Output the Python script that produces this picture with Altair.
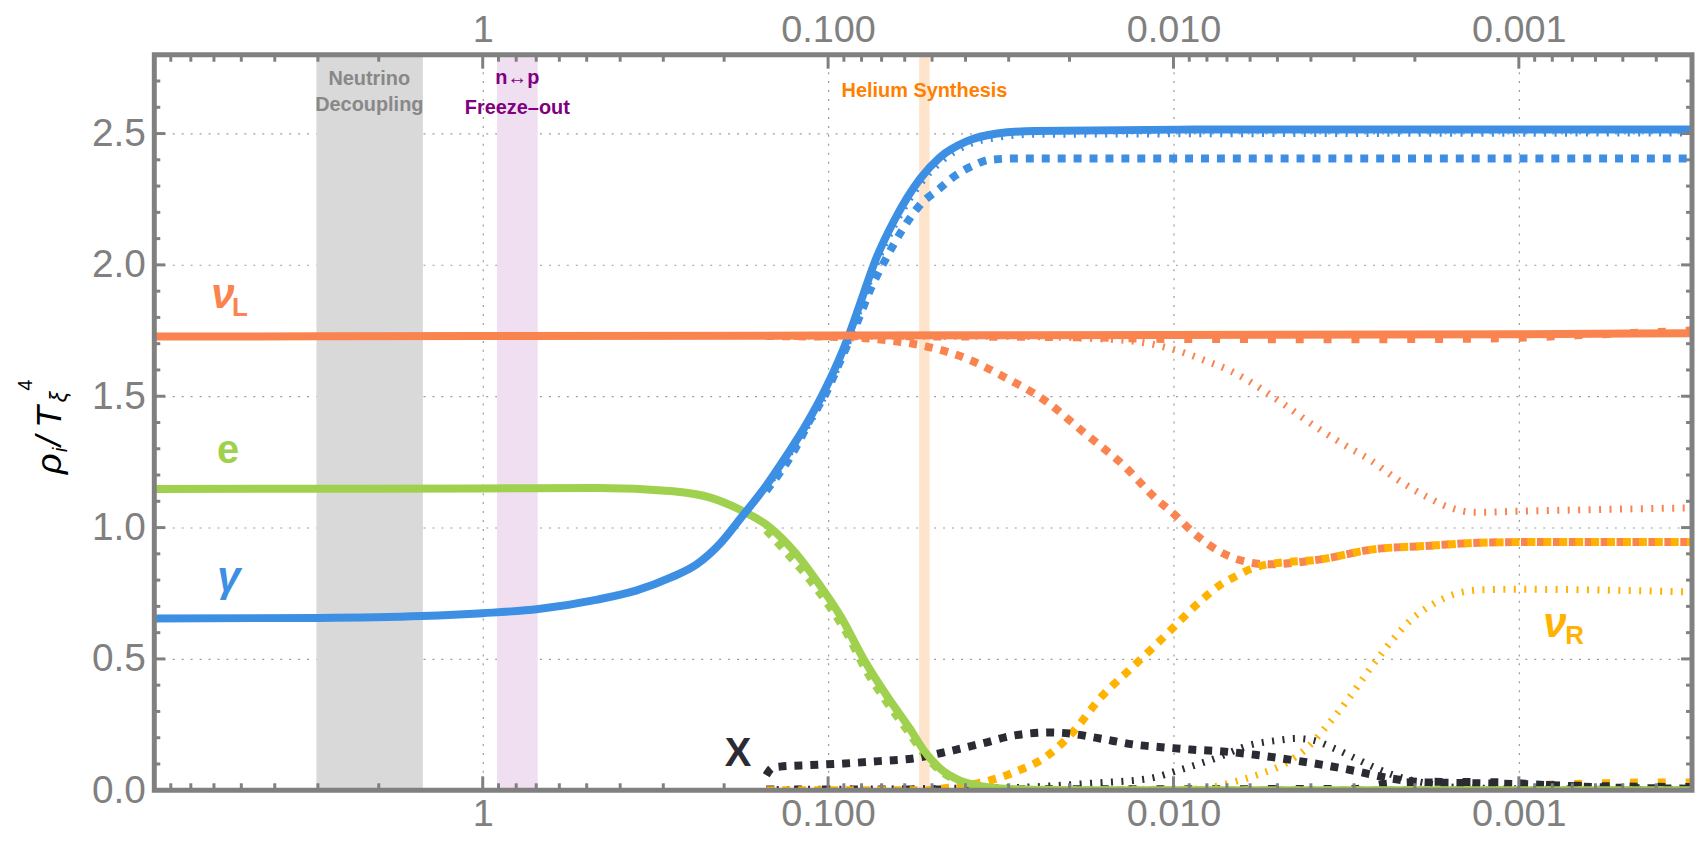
import altair as alt
import pandas as pd

# ---------------- layout ----------------
W, H = 1545, 739
T_LO, T_HI = 3.152e-4, 8.93
V_LO, V_HI = 0.0, 2.8

FONT = "Liberation Sans"
AX = "#808080"

species_names = ["gamma", "e", "nuL", "nuR", "X"]
species_colors = ["#3D8FE3", "#9FD04E", "#FA8450", "#FFB300", "#2B2B33"]

# ---------------- data ----------------
# photons (solid)
gamma_T = [8.9, 3.0, 1.5, 1.0, 0.69, 0.47, 0.36, 0.285, 0.24, 0.205, 0.178, 0.151, 0.131, 0.116,
           0.1016, 0.0872, 0.0809, 0.0728, 0.0643, 0.054, 0.0474, 0.0397, 0.0324, 0.0252, 0.0087, 0.000315]
gamma_v = [0.654, 0.656, 0.663, 0.674, 0.69, 0.725, 0.76, 0.81, 0.86, 0.94, 1.04, 1.16, 1.28, 1.39,
           1.53, 1.73, 1.85, 2.02, 2.17, 2.33, 2.41, 2.47, 2.50, 2.51, 2.515, 2.515]
# electrons (solid)
e_T = [8.9, 1.0, 0.466, 0.281, 0.218, 0.178, 0.1487, 0.1245, 0.1069, 0.0918, 0.0787, 0.0676, 0.058,
       0.0525, 0.0474, 0.0418, 0.0368, 0.0316, 0.0252, 0.0169, 0.000315]
e_v = [1.147, 1.149, 1.151, 1.138, 1.113, 1.065, 1.005, 0.905, 0.79, 0.66, 0.497, 0.36, 0.235,
       0.147, 0.083, 0.039, 0.018, 0.007, 0.002, 0.0, 0.0]
# left-handed neutrinos (solid)
nuL_T = [8.9, 1.0, 0.1, 0.01, 0.001, 0.000315]
nuL_v = [1.727, 1.729, 1.731, 1.733, 1.736, 1.74]

# scenario A (large square dots)
gA_T = [0.151, 0.1245, 0.1127, 0.1016, 0.0918, 0.083, 0.0749, 0.0676, 0.0612, 0.054, 0.0476, 0.0428,
        0.0377, 0.0341, 0.0285, 0.000315]
gA_v = [1.14, 1.30, 1.41, 1.51, 1.64, 1.77, 1.915, 2.03, 2.13, 2.23, 2.29, 2.34, 2.38, 2.40, 2.405, 2.405]
eA_T = [0.151, 0.131, 0.116, 0.1016, 0.0872, 0.0787, 0.0676, 0.058, 0.0525, 0.0474, 0.0418, 0.0368,
        0.0316, 0.0252, 0.0169, 0.000315]
eA_v = [0.99, 0.90, 0.82, 0.72, 0.585, 0.47, 0.335, 0.215, 0.135, 0.075, 0.034, 0.015, 0.006, 0.001, 0.0, 0.0]
nuLA_T = [0.151, 0.0895, 0.0677, 0.0538, 0.0387, 0.0316, 0.0233, 0.0181, 0.014, 0.01115, 0.01017, 0.00864,
          0.00724, 0.006, 0.00533, 0.00375, 0.00264, 0.00186, 0.00131, 0.00092, 0.000315]
nuLA_v = [1.729, 1.725, 1.713, 1.694, 1.637, 1.58, 1.479, 1.36, 1.239, 1.106, 1.062, 0.974, 0.904, 0.867,
          0.86, 0.879, 0.917, 0.93, 0.942, 0.945, 0.945]
nuRA_T = [0.151, 0.0522, 0.0429, 0.035, 0.0285, 0.0233, 0.0195, 0.01634, 0.01332, 0.0117, 0.01007, 0.00853,
          0.0072, 0.00651, 0.00593, 0.00533, 0.00375, 0.00264, 0.00186, 0.00131, 0.00092, 0.000315]
nuRA_v = [0.0, 0.0, 0.014, 0.033, 0.072, 0.129, 0.223, 0.349, 0.462, 0.532, 0.616, 0.709, 0.788, 0.818,
          0.844, 0.86, 0.879, 0.917, 0.93, 0.942, 0.945, 0.945]
xA_T = [0.151, 0.145, 0.1378, 0.1125, 0.0895, 0.0713, 0.0567, 0.0451, 0.0359, 0.0285, 0.0227, 0.02, 0.01634,
        0.01266, 0.0113, 0.00893, 0.00708, 0.00573, 0.00453, 0.00367, 0.00297, 0.00235, 0.00186, 0.00136,
        0.00091, 0.0006, 0.000315]
xA_v = [0.057, 0.085, 0.09, 0.096, 0.102, 0.111, 0.121, 0.147, 0.178, 0.21, 0.22, 0.216, 0.197, 0.172, 0.166,
        0.155, 0.147, 0.134, 0.115, 0.096, 0.073, 0.045, 0.03, 0.027, 0.022, 0.012, 0.006]

# scenario B (thin dense dots)
gB_T = [0.151, 0.131, 0.1016, 0.0872, 0.0728, 0.0643, 0.054, 0.0474, 0.0397, 0.0324, 0.0252, 0.000315]
gB_v = [1.15, 1.27, 1.51, 1.71, 2.00, 2.15, 2.31, 2.39, 2.455, 2.485, 2.497, 2.502]
nuLB_T = [0.151, 0.0328, 0.01717, 0.01173, 0.00981, 0.00814, 0.00675, 0.0056, 0.00475, 0.00394, 0.00326,
          0.0027, 0.00224, 0.00186, 0.001576, 0.00134, 0.00101, 0.000575, 0.000315]
nuLB_v = [1.729, 1.728, 1.72, 1.70, 1.675, 1.637, 1.593, 1.53, 1.466, 1.39, 1.321, 1.258, 1.182, 1.119,
          1.075, 1.058, 1.062, 1.069, 1.075]
nuRB_T = [0.151, 0.0085, 0.0069, 0.00573, 0.00475, 0.00412, 0.00358, 0.00311, 0.0027, 0.00235, 0.00204,
          0.00177, 0.00154, 0.00128, 0.00101, 0.000315]
nuRB_v = [0.0, 0.005, 0.027, 0.058, 0.102, 0.159, 0.248, 0.349, 0.462, 0.564, 0.652, 0.709, 0.746, 0.763,
          0.765, 0.755]
xB_T = [0.151, 0.0302, 0.01717, 0.01173, 0.00961, 0.00758, 0.006, 0.00498, 0.00442, 0.00394, 0.00342,
        0.00297, 0.00258, 0.00224, 0.00186, 0.00147, 0.000853, 0.000315]
xB_v = [0.003, 0.01, 0.027, 0.045, 0.077, 0.121, 0.172, 0.19, 0.197, 0.19, 0.159, 0.121, 0.083, 0.052,
        0.027, 0.01, 0.005, 0.003]

# scenario C (sparse squares)
nuLC_T = [0.151, 0.02, 0.01, 0.003, 0.0012, 0.0006, 0.000315]
nuLC_v = [1.729, 1.725, 1.718, 1.717, 1.72, 1.735, 1.75]
nuRC_T = [0.151, 0.0012, 0.0009, 0.0006, 0.0004, 0.000315]
nuRC_v = [0.0, 0.003, 0.018, 0.026, 0.03, 0.03]
xC_T = [0.151, 0.003, 0.0024, 0.0018, 0.0011, 0.00085, 0.000315]
xC_v = [0.003, 0.005, 0.025, 0.032, 0.03, 0.02, 0.012]

# shaded epochs
band_names = ["Neutrino Decoupling", "n-p Freeze-out", "Helium Synthesis"]
band_T0 = [1.49, 0.693, 0.0508]
band_T1 = [3.03, 0.909, 0.0545]
band_fill = ["#D9D9D9", "#EFDFF0", "#FFE4CC"]

band_label_text = ["Neutrino", "Decoupling", "n\u2194p", "Freeze\u2013out", "Helium Synthesis"]
band_label_group = ["nd", "nd", "np", "np", "he"]
band_label_T = [2.13, 2.13, 0.794, 0.794, 0.0526]
band_label_v = [2.706, 2.607, 2.713, 2.596, 2.66]
band_label_colors = {"nd": "#888888", "np": "#800080", "he": "#FF8000"}

# curve labels
big_it_text = ["\u03bd", "\u03b3", "\u03bd"]
big_it_species = ["nuL", "gamma", "nuR"]
big_it_T = [5.65, 5.43, 7.87e-4]
big_it_v = [1.887, 0.807, 0.633]
big_up_text = ["e", "X"]
big_up_species = ["e", "X"]
big_up_T = [5.46, 0.1823]
big_up_v = [1.292, 0.136]
sub_text = ["L", "R"]
sub_species = ["nuL", "nuR"]
sub_T = [5.05, 6.9e-4]
sub_v = [1.836, 0.587]

# axis ticks
x_major = [1.0, 0.1, 0.01, 0.001]
x_minor = [8, 7, 6, 5, 4, 3, 2,
           0.9, 0.8, 0.7, 0.6, 0.5, 0.4, 0.3, 0.2,
           0.09, 0.08, 0.07, 0.06, 0.05, 0.04, 0.03, 0.02,
           0.009, 0.008, 0.007, 0.006, 0.005, 0.004, 0.003, 0.002,
           0.0009, 0.0008, 0.0007, 0.0006, 0.0005, 0.0004]
y_major = [0.5, 1.0, 1.5, 2.0, 2.5]
y_minor = [0.1, 0.2, 0.3, 0.4, 0.6, 0.7, 0.8, 0.9, 1.1, 1.2, 1.3, 1.4, 1.6, 1.7, 1.8, 1.9,
           2.1, 2.2, 2.3, 2.4, 2.6, 2.7]
y_label_values = [0.0, 0.5, 1.0, 1.5, 2.0, 2.5]

# ---------------- tables ----------------
rows = []


def add(species, style, Ts, vs):
    for t, v in zip(Ts, vs):
        rows.append({"T": t, "v": v, "species": species, "style": style, "series": species + "_" + style})


add("gamma", "solid", gamma_T, gamma_v)
add("e", "solid", e_T, e_v)
add("nuL", "solid", nuL_T, nuL_v)
add("gamma", "A", gA_T, gA_v)
add("e", "A", eA_T, eA_v)
add("nuL", "A", nuLA_T, nuLA_v)
add("nuR", "A", nuRA_T, nuRA_v)
add("X", "A", xA_T, xA_v)
add("gamma", "B", gB_T, gB_v)
add("nuL", "B", nuLB_T, nuLB_v)
add("nuR", "B", nuRB_T, nuRB_v)
add("X", "B", xB_T, xB_v)
add("nuL", "C", nuLC_T, nuLC_v)
add("nuR", "C", nuRC_T, nuRC_v)
add("X", "C", xC_T, xC_v)
curves = pd.DataFrame(rows)

bands = pd.DataFrame({"name": band_names, "T0": band_T0, "T1": band_T1, "fill": band_fill})
band_labels = pd.DataFrame({"text": band_label_text, "group": band_label_group,
                            "T": band_label_T, "v": band_label_v})

xscale = alt.Scale(type="log", domain=[T_LO, T_HI], reverse=True, nice=False)
yscale = alt.Scale(domain=[V_LO, V_HI], nice=False, zero=False)
cscale = alt.Scale(domain=species_names, range=species_colors)

label_expr = "datum.value > 0.5 ? '1' : format(datum.value, '.3f')"

bottom_axis = alt.Axis(orient="bottom", values=x_major, labelExpr=label_expr, labelFont=FONT,
                       labelFontSize=38, labelColor=AX, labelPadding=5, ticks=False, tickSize=0,
                       domain=False, grid=True, gridColor="#9c9c9c", gridDash=[2, 7], gridWidth=1.2,
                       title=None, labelOverlap=False, labelFlush=False)
top_axis = alt.Axis(orient="top", values=x_major, labelExpr=label_expr, labelFont=FONT,
                    labelFontSize=38, labelPadding=5, labelColor=AX, ticks=False, tickSize=0,
                    domain=False, grid=False, title=None, labelOverlap=False, labelFlush=False)
left_axis = alt.Axis(orient="left", values=y_label_values, format=".1f", labelFont=FONT,
                     labelFontSize=39, labelColor=AX, labelPadding=9, ticks=False, tickSize=0,
                     domain=False, grid=True, gridColor="#9c9c9c", gridDash=[2, 7], gridWidth=1.2,
                     title=None, labelOverlap=False, labelFlush=False)


def X(field="T", axis=None):
    return alt.X(f"{field}:Q", scale=xscale, axis=axis)


def Y(field="v", axis=None):
    return alt.Y(f"{field}:Q", scale=yscale, axis=axis)


layers = []

# epoch bands
layers.append(
    alt.Chart(bands).mark_rect().encode(
        x=X("T0"), x2="T1:Q",
        y=alt.YDatum(V_LO, scale=yscale, axis=None), y2=alt.Y2Datum(V_HI),
        fill=alt.Fill("fill:N", scale=None, legend=None),
    )
)

# band labels (one layer per colour)
for grp, col in band_label_colors.items():
    layers.append(
        alt.Chart(band_labels).transform_filter(alt.datum.group == grp)
        .mark_text(font=FONT, fontSize=20, fontWeight="bold", align="center", baseline="middle",
                   color=col).encode(x=X(), y=Y(), text="text:N")
    )

line_order = alt.Order("T:Q", sort="descending")


def curve_layer(style, dash, width):
    return alt.Chart(curves).transform_filter(alt.datum.style == style).mark_line(
        strokeDash=dash, strokeWidth=width, clip=True, strokeCap="butt", interpolate="monotone").encode(
        x=X(), y=Y(), detail="series:N", order=line_order,
        color=alt.Color("species:N", scale=cscale, legend=None))


layers.append(curve_layer("C", [8, 20], 8))
layers.append(curve_layer("B", [2, 8.5], 7))
layers.append(curve_layer("A", [8, 8], 8))

for sp in ["e", "gamma", "nuL"]:
    layers.append(
        alt.Chart(curves).transform_filter((alt.datum.style == "solid") & (alt.datum.species == sp))
        .mark_line(strokeWidth=8, clip=True, interpolate="monotone").encode(
            x=X(), y=Y(), order=line_order,
            color=alt.Color("species:N", scale=cscale, legend=None))
    )

# curve labels
layers.append(
    alt.Chart(pd.DataFrame({"text": big_it_text, "species": big_it_species, "T": big_it_T, "v": big_it_v}))
    .mark_text(font=FONT, fontSize=42, fontWeight="bold", fontStyle="italic", align="center",
               baseline="middle").encode(
        x=X(), y=Y(), text="text:N", color=alt.Color("species:N", scale=cscale, legend=None))
)
layers.append(
    alt.Chart(pd.DataFrame({"text": big_up_text, "species": big_up_species, "T": big_up_T, "v": big_up_v}))
    .mark_text(font=FONT, fontSize=40, fontWeight="bold", align="center", baseline="middle").encode(
        x=X(), y=Y(), text="text:N", color=alt.Color("species:N", scale=cscale, legend=None))
)
layers.append(
    alt.Chart(pd.DataFrame({"text": sub_text, "species": sub_species, "T": sub_T, "v": sub_v}))
    .mark_text(font=FONT, fontSize=26, fontWeight="bold", align="center", baseline="middle").encode(
        x=X(), y=Y(), text="text:N", color=alt.Color("species:N", scale=cscale, legend=None))
)

# frame (drawn on top of the curves)
layers.append(
    alt.Chart(pd.DataFrame({"k": [0]})).mark_rect(fillOpacity=0, stroke=AX, strokeWidth=5).encode(
        x=alt.XDatum(T_HI, scale=xscale, axis=None), x2=alt.X2Datum(T_LO),
        y=alt.YDatum(V_LO, scale=yscale, axis=None), y2=alt.Y2Datum(V_HI))
)

# inward ticks
xmaj = pd.DataFrame({"T": x_major})
xmin = pd.DataFrame({"T": x_minor})
ymaj = pd.DataFrame({"v": y_major})
ymin = pd.DataFrame({"v": y_minor})
tick = dict(color=AX, strokeWidth=3)

layers.append(alt.Chart(xmaj).mark_rule(**tick).encode(x=X(axis=bottom_axis), y=alt.value(H), y2=alt.value(H - 14)))
layers.append(alt.Chart(xmaj).mark_rule(**tick).encode(x=X(axis=top_axis), y=alt.value(0), y2=alt.value(14)))
layers.append(alt.Chart(xmin).mark_rule(**tick).encode(x=X(), y=alt.value(H), y2=alt.value(H - 7)))
layers.append(alt.Chart(xmin).mark_rule(**tick).encode(x=X(), y=alt.value(0), y2=alt.value(7)))
layers.append(alt.Chart(ymaj).mark_rule(**tick).encode(y=Y(axis=left_axis), x=alt.value(0), x2=alt.value(11)))
layers.append(alt.Chart(ymaj).mark_rule(**tick).encode(y=Y(), x=alt.value(W), x2=alt.value(W - 11)))
layers.append(alt.Chart(ymin).mark_rule(**tick).encode(y=Y(), x=alt.value(0), x2=alt.value(6)))
layers.append(alt.Chart(ymin).mark_rule(**tick).encode(y=Y(), x=alt.value(W), x2=alt.value(W - 6)))


# y-axis title  rho_i / T_xi ^4  (rotated pieces)
def glyph(txt, x, y, size, style="italic"):
    return alt.Chart(pd.DataFrame({"t": [txt]})).mark_text(
        angle=270, align="center", baseline="alphabetic", font=FONT, fontSize=size,
        fontStyle=style, color="black").encode(x=alt.value(x), y=alt.value(y), text="t:N")


layers.append(glyph("\u03c1", -94, 411, 36))
layers.append(glyph("i", -88, 397, 20))
layers.append(glyph("/", -94, 388, 36))
layers.append(glyph("T", -94, 364, 36))
layers.append(glyph("\u03be", -88, 344, 24))
layers.append(glyph("4", -123, 332, 20, "normal"))

chart = alt.layer(*layers).properties(
    width=W, height=H,
    autosize=alt.AutoSizeParams(type="none"),
    padding={"left": 147, "top": 45, "right": 4, "bottom": 44},
    background="white",
).resolve_axis(x="independent", y="independent").configure_view(stroke=None)

chart.save("out.html", embed_options={"renderer": "svg", "actions": False})
